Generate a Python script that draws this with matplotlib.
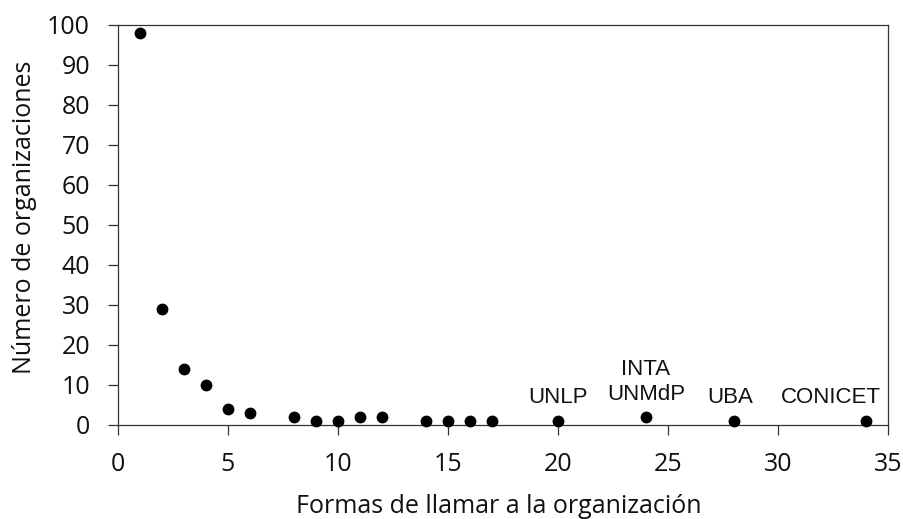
import matplotlib
matplotlib.use("Agg")
import matplotlib.pyplot as plt

# Data
formas = [1, 2, 3, 4, 5, 6, 8, 9, 10, 11, 12, 14, 15, 16, 17, 20, 24, 28, 34]
n_orgs = [98, 29, 14, 10, 4, 3, 2, 1, 1, 2, 2, 1, 1, 1, 1, 1, 2, 1, 1]
label_x = [20, 24, 28, 34]
label_y = [1, 2, 1, 1]
label_text = ["UNLP", "INTA\nUNMdP", "UBA", "CONICET"]
label_dx = [0, 0, -3, -25]
label_dy = [13, 12, 13, 13]
xticks = [0, 5, 10, 15, 20, 25, 30, 35]
yticks = [0, 10, 20, 30, 40, 50, 60, 70, 80, 90, 100]

plt.rcParams['font.family'] = ['Open Sans', 'DejaVu Sans']

fig = plt.figure(figsize=(9.04, 5.19), dpi=100)
ax = fig.add_axes([118 / 904, 94 / 519, 770 / 904, 400 / 519])

ax.plot(formas, n_orgs, 'o', color='black', markersize=7.5, clip_on=False, zorder=3)

for x, y, t, dx, dy in zip(label_x, label_y, label_text, label_dx, label_dy):
    ax.annotate(t, xy=(x, y), xytext=(dx, dy), textcoords='offset points',
                ha='center', va='baseline', fontsize=16, multialignment='center',
                family=['Liberation Sans', 'DejaVu Sans'], linespacing=1.3,
                color='#111111')

ax.set_xlim(0, 35)
ax.set_ylim(0, 100)
ax.set_xticks(xticks)
ax.set_yticks(yticks)
ax.tick_params(direction='out', length=7.2, width=0.9, labelsize=18, color='#333333',
               labelcolor='#111111')
ax.tick_params(axis='x', pad=12.5)
ax.tick_params(axis='y', pad=13)
for s in ax.spines.values():
    s.set_linewidth(0.9)
    s.set_color('#333333')

ax.set_xlabel('Formas de llamar a la organización', fontsize=18, color='#111111')
ax.set_ylabel('Número de organizaciones', fontsize=18, color='#111111')

fig.canvas.draw()
# x label baseline ~ 513 px from top (axes bottom at 425 px)
ax.xaxis.set_label_coords(0.495, -(513 - 425) / 400, transform=ax.transAxes)
ax.xaxis.label.set_va('baseline')
ax.yaxis.set_label_coords((12 - 118) / 770, 0.52, transform=ax.transAxes)
ax.yaxis.label.set_va('top')

fig.savefig('out.png', dpi=100)
